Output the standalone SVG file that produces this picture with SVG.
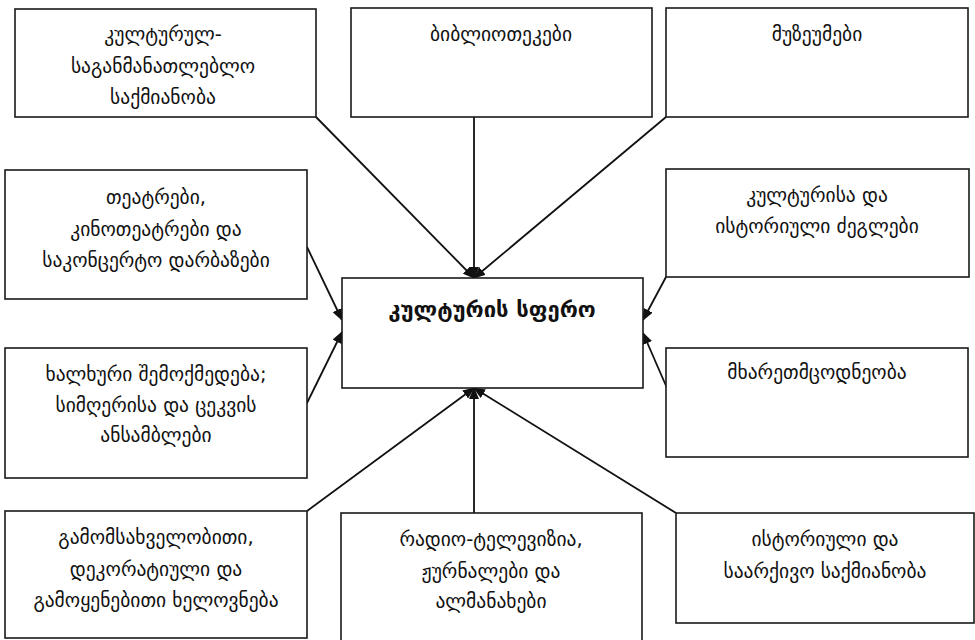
<svg xmlns="http://www.w3.org/2000/svg" width="975" height="640" viewBox="0 0 975 640">
  <style>
    .box { fill: #ffffff; stroke: #1a1a1a; stroke-width: 1.6; }
    .lbl { font-family: "DejaVu Sans", "Noto Sans", sans-serif; font-size: 19.5px; fill: #111111; text-anchor: middle; }
    .title { font-family: "DejaVu Sans", "Noto Sans", sans-serif; font-size: 22px; font-weight: bold; fill: #111111; text-anchor: middle; }
    .link { stroke: #111111; stroke-width: 1.8; fill: none; marker-end: url(#arrow); }
  </style>
  <defs>
    <marker id="arrow" markerUnits="userSpaceOnUse" markerWidth="12" markerHeight="10" refX="11" refY="5" orient="auto">
      <path d="M0,0 L12,5 L0,10 z" fill="#111111"/>
    </marker>
  </defs>
  <rect width="975" height="640" fill="#ffffff"/>

  <g id="connectors">
    <line class="link" x1="316" y1="117" x2="474" y2="278"/>
    <line class="link" x1="474" y1="117" x2="474" y2="278"/>
    <line class="link" x1="666" y1="117" x2="474" y2="278"/>
    <line class="link" x1="307" y1="247" x2="342" y2="320"/>
    <line class="link" x1="307" y1="403" x2="342" y2="332"/>
    <line class="link" x1="666" y1="277" x2="643" y2="320"/>
    <line class="link" x1="667" y1="388" x2="643" y2="333"/>
    <line class="link" x1="307" y1="511" x2="474" y2="388"/>
    <line class="link" x1="474" y1="513" x2="474" y2="388"/>
    <line class="link" x1="676" y1="513" x2="474" y2="388"/>
  </g>

  <g id="cultural-education">
    <rect class="box" x="15" y="9" width="301" height="108"/>
    <text class="lbl" x="163" y="41">კულტურულ-</text>
    <text class="lbl" x="163" y="73">საგანმანათლებლო</text>
    <text class="lbl" x="163" y="104">საქმიანობა</text>
  </g>

  <g id="libraries">
    <rect class="box" x="351" y="8" width="301" height="109"/>
    <text class="lbl" x="501" y="41">ბიბლიოთეკები</text>
  </g>

  <g id="museums">
    <rect class="box" x="666" y="8" width="302" height="109"/>
    <text class="lbl" x="817" y="41">მუზეუმები</text>
  </g>

  <g id="theatres">
    <rect class="box" x="5" y="170" width="302" height="129"/>
    <text class="lbl" x="156" y="204">თეატრები,</text>
    <text class="lbl" x="156" y="236">კინოთეატრები და</text>
    <text class="lbl" x="156" y="267">საკონცერტო დარბაზები</text>
  </g>

  <g id="monuments">
    <rect class="box" x="666" y="169" width="303" height="108"/>
    <text class="lbl" x="817" y="202">კულტურისა და</text>
    <text class="lbl" x="817" y="233">ისტორიული ძეგლები</text>
  </g>

  <g id="culture-sphere">
    <rect class="box" x="342" y="278" width="301" height="110"/>
    <text class="title" x="492" y="317">კულტურის სფერო</text>
  </g>

  <g id="folk-art">
    <rect class="box" x="5" y="348" width="302" height="130"/>
    <text class="lbl" x="156" y="381">ხალხური შემოქმედება;</text>
    <text class="lbl" x="156" y="412">სიმღერისა და ცეკვის</text>
    <text class="lbl" x="156" y="442">ანსამბლები</text>
  </g>

  <g id="regional-studies">
    <rect class="box" x="666" y="348" width="302" height="109"/>
    <text class="lbl" x="817" y="379">მხარეთმცოდნეობა</text>
  </g>

  <g id="fine-arts">
    <rect class="box" x="5" y="511" width="302" height="127"/>
    <text class="lbl" x="156" y="544">გამომსახველობითი,</text>
    <text class="lbl" x="156" y="576">დეკორატიული და</text>
    <text class="lbl" x="156" y="607">გამოყენებითი ხელოვნება</text>
  </g>

  <g id="media">
    <rect class="box" x="341" y="513" width="301" height="132"/>
    <text class="lbl" x="491" y="546">რადიო-ტელევიზია,</text>
    <text class="lbl" x="491" y="578">ჟურნალები და</text>
    <text class="lbl" x="491" y="608">ალმანახები</text>
  </g>

  <g id="archives">
    <rect class="box" x="676" y="513" width="298" height="110"/>
    <text class="lbl" x="825" y="546">ისტორიული და</text>
    <text class="lbl" x="825" y="578">საარქივო საქმიანობა</text>
  </g>
</svg>
